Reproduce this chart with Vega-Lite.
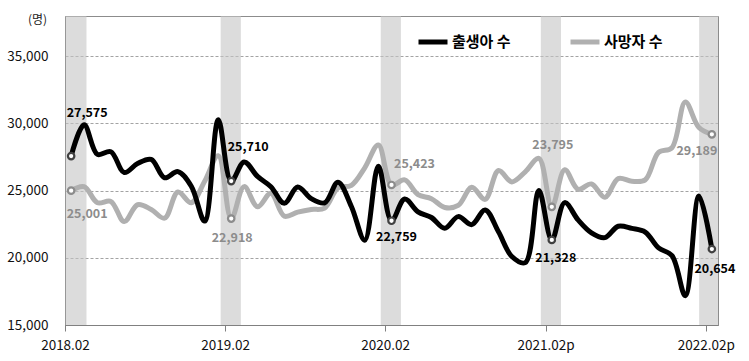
{
  "$schema": "https://vega.github.io/schema/vega-lite/v6.json",
  "width": 653,
  "height": 309,
  "autosize": {"type": "none"},
  "padding": {"left": 65, "top": 16, "right": 31, "bottom": 36},
  "background": "white",
  "config": {
    "font": "Noto Sans CJK KR",
    "view": {"stroke": "#8c8c8c", "strokeWidth": 1}
  },
  "datasets": {
    "bands": [
      {"start": "2018-02-02", "end": "2018-03-22"},
      {"start": "2019-01-22", "end": "2019-03-09"},
      {"start": "2020-01-22", "end": "2020-03-08"},
      {"start": "2021-01-21", "end": "2021-03-08"},
      {"start": "2022-01-17", "end": "2022-03-01"}
    ],
    "monthly": [
      {"month": "2018-02", "series": "사망자 수", "value": 25001},
      {"month": "2018-03", "series": "사망자 수", "value": 25300},
      {"month": "2018-04", "series": "사망자 수", "value": 24100},
      {"month": "2018-05", "series": "사망자 수", "value": 24200},
      {"month": "2018-06", "series": "사망자 수", "value": 22700},
      {"month": "2018-07", "series": "사망자 수", "value": 23950},
      {"month": "2018-08", "series": "사망자 수", "value": 23600},
      {"month": "2018-09", "series": "사망자 수", "value": 22950},
      {"month": "2018-10", "series": "사망자 수", "value": 24900},
      {"month": "2018-11", "series": "사망자 수", "value": 24100},
      {"month": "2018-12", "series": "사망자 수", "value": 25700},
      {"month": "2019-01", "series": "사망자 수", "value": 27600},
      {"month": "2019-02", "series": "사망자 수", "value": 22918},
      {"month": "2019-03", "series": "사망자 수", "value": 25300},
      {"month": "2019-04", "series": "사망자 수", "value": 23800},
      {"month": "2019-05", "series": "사망자 수", "value": 24800},
      {"month": "2019-06", "series": "사망자 수", "value": 23100},
      {"month": "2019-07", "series": "사망자 수", "value": 23400},
      {"month": "2019-08", "series": "사망자 수", "value": 23600},
      {"month": "2019-09", "series": "사망자 수", "value": 23700},
      {"month": "2019-10", "series": "사망자 수", "value": 25200},
      {"month": "2019-11", "series": "사망자 수", "value": 25400},
      {"month": "2019-12", "series": "사망자 수", "value": 26700},
      {"month": "2020-01", "series": "사망자 수", "value": 28400},
      {"month": "2020-02", "series": "사망자 수", "value": 25423},
      {"month": "2020-03", "series": "사망자 수", "value": 25800},
      {"month": "2020-04", "series": "사망자 수", "value": 24700},
      {"month": "2020-05", "series": "사망자 수", "value": 24400},
      {"month": "2020-06", "series": "사망자 수", "value": 23750},
      {"month": "2020-07", "series": "사망자 수", "value": 23900},
      {"month": "2020-08", "series": "사망자 수", "value": 25250},
      {"month": "2020-09", "series": "사망자 수", "value": 24350},
      {"month": "2020-10", "series": "사망자 수", "value": 26500},
      {"month": "2020-11", "series": "사망자 수", "value": 25650},
      {"month": "2020-12", "series": "사망자 수", "value": 26400},
      {"month": "2021-01", "series": "사망자 수", "value": 27400},
      {"month": "2021-02", "series": "사망자 수", "value": 23795},
      {"month": "2021-03", "series": "사망자 수", "value": 26550},
      {"month": "2021-04", "series": "사망자 수", "value": 25100},
      {"month": "2021-05", "series": "사망자 수", "value": 25500},
      {"month": "2021-06", "series": "사망자 수", "value": 24500},
      {"month": "2021-07", "series": "사망자 수", "value": 25900},
      {"month": "2021-08", "series": "사망자 수", "value": 25700},
      {"month": "2021-09", "series": "사망자 수", "value": 25800},
      {"month": "2021-10", "series": "사망자 수", "value": 27850},
      {"month": "2021-11", "series": "사망자 수", "value": 28200},
      {"month": "2021-12", "series": "사망자 수", "value": 31600},
      {"month": "2022-01", "series": "사망자 수", "value": 29700},
      {"month": "2022-02", "series": "사망자 수", "value": 29189},
      {"month": "2018-02", "series": "출생아 수", "value": 27575},
      {"month": "2018-03", "series": "출생아 수", "value": 29900},
      {"month": "2018-04", "series": "출생아 수", "value": 27700},
      {"month": "2018-05", "series": "출생아 수", "value": 27900},
      {"month": "2018-06", "series": "출생아 수", "value": 26350},
      {"month": "2018-07", "series": "출생아 수", "value": 27016},
      {"month": "2018-08", "series": "출생아 수", "value": 27325},
      {"month": "2018-09", "series": "출생아 수", "value": 25961},
      {"month": "2018-10", "series": "출생아 수", "value": 26417},
      {"month": "2018-11", "series": "출생아 수", "value": 25326},
      {"month": "2018-12", "series": "출생아 수", "value": 22733},
      {"month": "2019-01", "series": "출생아 수", "value": 30281},
      {"month": "2019-02", "series": "출생아 수", "value": 25710},
      {"month": "2019-03", "series": "출생아 수", "value": 27139},
      {"month": "2019-04", "series": "출생아 수", "value": 26057},
      {"month": "2019-05", "series": "출생아 수", "value": 25294},
      {"month": "2019-06", "series": "출생아 수", "value": 24054},
      {"month": "2019-07", "series": "출생아 수", "value": 25269},
      {"month": "2019-08", "series": "출생아 수", "value": 24408},
      {"month": "2019-09", "series": "출생아 수", "value": 24091},
      {"month": "2019-10", "series": "출생아 수", "value": 25630},
      {"month": "2019-11", "series": "출생아 수", "value": 23819},
      {"month": "2019-12", "series": "출생아 수", "value": 21311},
      {"month": "2020-01", "series": "출생아 수", "value": 26818},
      {"month": "2020-02", "series": "출생아 수", "value": 22759},
      {"month": "2020-03", "series": "출생아 수", "value": 24378},
      {"month": "2020-04", "series": "출생아 수", "value": 23420},
      {"month": "2020-05", "series": "출생아 수", "value": 23001},
      {"month": "2020-06", "series": "출생아 수", "value": 22193},
      {"month": "2020-07", "series": "출생아 수", "value": 23067},
      {"month": "2020-08", "series": "출생아 수", "value": 22472},
      {"month": "2020-09", "series": "출생아 수", "value": 23566},
      {"month": "2020-10", "series": "출생아 수", "value": 21934},
      {"month": "2020-11", "series": "출생아 수", "value": 20097},
      {"month": "2020-12", "series": "출생아 수", "value": 19641},
      {"month": "2021-01", "series": "출생아 수", "value": 25003},
      {"month": "2021-02", "series": "출생아 수", "value": 21328},
      {"month": "2021-03", "series": "출생아 수", "value": 24109},
      {"month": "2021-04", "series": "출생아 수", "value": 22820},
      {"month": "2021-05", "series": "출생아 수", "value": 21859},
      {"month": "2021-06", "series": "출생아 수", "value": 21504},
      {"month": "2021-07", "series": "출생아 수", "value": 22352},
      {"month": "2021-08", "series": "출생아 수", "value": 22189},
      {"month": "2021-09", "series": "출생아 수", "value": 21920},
      {"month": "2021-10", "series": "출생아 수", "value": 20736},
      {"month": "2021-11", "series": "출생아 수", "value": 20160},
      {"month": "2021-12", "series": "출생아 수", "value": 17179},
      {"month": "2022-01", "series": "출생아 수", "value": 24598},
      {"month": "2022-02", "series": "출생아 수", "value": 20654}
    ]
  },
  "layer": [
    {
      "data": {"name": "bands"},
      "mark": {"type": "rect", "fill": "#c4c4c4", "fillOpacity": 0.6, "stroke": null},
      "encoding": {
        "x": {"field": "start", "type": "temporal", "title": null, "scale": {"type": "utc"}},
        "x2": {"field": "end"}
      }
    },
    {
      "data": {"name": "monthly"},
      "encoding": {
        "x": {
          "field": "month",
          "type": "temporal",
          "timeUnit": "utcyearmonth",
          "bandPosition": 0.5,
          "title": null,
          "scale": {
            "type": "utc",
            "domain": [
              {"year": 2018, "month": 2, "date": 1, "utc": true},
              {"year": 2022, "month": 3, "date": 1, "utc": true}
            ]
          },
          "axis": {
            "values": [
              {"year": 2018, "month": 2, "date": 1, "utc": true},
              {"year": 2019, "month": 2, "date": 1, "utc": true},
              {"year": 2020, "month": 2, "date": 1, "utc": true},
              {"year": 2021, "month": 2, "date": 1, "utc": true},
              {"year": 2022, "month": 2, "date": 1, "utc": true}
            ],
            "labelExpr": "utcFormat(datum.value, '%Y.%m') + (utcyear(datum.value) >= 2021 ? 'p' : '')",
            "labelFont": "Noto Sans CJK KR",
            "labelFontSize": 13.5,
            "labelColor": "#111111",
            "labelPadding": 7,
            "labelFlush": false,
            "labelOverlap": false,
            "tickSize": 6,
            "tickColor": "#808080",
            "domainColor": "#808080",
            "grid": false
          }
        },
        "y": {
          "field": "value",
          "type": "quantitative",
          "title": "(명)",
          "scale": {"domain": [15000, 38000], "nice": false, "zero": false},
          "axis": {
            "values": [15000, 20000, 25000, 30000, 35000],
            "format": ",d",
            "labelFont": "Noto Sans CJK KR",
            "labelFontSize": 13.5,
            "labelColor": "#111111",
            "labelPadding": 17,
            "ticks": false,
            "domainColor": "#808080",
            "grid": true,
            "gridColor": "#8c8c8c",
            "gridDash": [3, 2],
            "gridWidth": 0.8,
            "titleAngle": 0,
            "titleX": -28,
            "titleY": 3,
            "titleAlign": "center",
            "titleBaseline": "middle",
            "titleFont": "Noto Sans CJK KR",
            "titleFontSize": 12,
            "titleFontWeight": "normal",
            "titleColor": "#222222"
          }
        }
      },
      "layer": [
        {
          "transform": [{"filter": "datum.series == '사망자 수'"}],
          "mark": {"type": "line", "strokeWidth": 5, "interpolate": "catmull-rom", "strokeCap": "round", "strokeJoin": "round"},
          "encoding": {
            "color": {"field": "series", "type": "nominal",
              "scale": {"domain": ["출생아 수", "사망자 수"], "range": ["#000000", "#b0b0b0"]}}
          }
        },
        {
          "transform": [{"filter": "datum.series == '출생아 수'"}],
          "mark": {"type": "line", "strokeWidth": 5, "interpolate": "catmull-rom", "strokeCap": "round", "strokeJoin": "round"},
          "encoding": {
            "color": {
              "field": "series", "type": "nominal",
              "scale": {"domain": ["출생아 수", "사망자 수"], "range": ["#000000", "#b0b0b0"]},
              "legend": {
                "orient": "none", "legendX": 351, "legendY": 9, "direction": "horizontal",
                "title": null, "padding": 0,
                "symbolType": "stroke", "symbolStrokeWidth": 5, "symbolSize": 841,
                "labelFont": "Noto Sans CJK KR", "labelFontSize": 15, "labelFontWeight": "bold",
                "labelColor": "#000000", "labelOffset": 2, "columnPadding": 49
              }
            }
          }
        },
        {
          "transform": [{"filter": "indexof([27575, 25710, 22759, 21328, 20654, 25001, 22918, 25423, 23795, 29189], datum.value) >= 0"}],
          "mark": {"type": "point", "shape": "circle", "filled": true, "fill": "white", "strokeWidth": 2.2, "size": 42, "opacity": 1},
          "encoding": {
            "stroke": {"field": "series", "type": "nominal", "legend": null,
              "scale": {"domain": ["출생아 수", "사망자 수"], "range": ["#404040", "#8c8c8c"]}}
          }
        },
        {"transform": [{"filter": "datum.value == 27575"}], "mark": {"type": "text", "fontWeight": "bold", "fontSize": 12.5, "color": "#000000", "dx": 16, "dy": -43},
         "encoding": {"text": {"field": "value", "type": "quantitative", "format": ",d"}}},
        {"transform": [{"filter": "datum.value == 25710"}], "mark": {"type": "text", "fontWeight": "bold", "fontSize": 12.5, "color": "#000000", "dx": 17, "dy": -34},
         "encoding": {"text": {"field": "value", "type": "quantitative", "format": ",d"}}},
        {"transform": [{"filter": "datum.value == 22759"}], "mark": {"type": "text", "fontWeight": "bold", "fontSize": 12.5, "color": "#000000", "dx": 5, "dy": 16},
         "encoding": {"text": {"field": "value", "type": "quantitative", "format": ",d"}}},
        {"transform": [{"filter": "datum.value == 21328"}], "mark": {"type": "text", "fontWeight": "bold", "fontSize": 12.5, "color": "#000000", "dx": 4, "dy": 18},
         "encoding": {"text": {"field": "value", "type": "quantitative", "format": ",d"}}},
        {"transform": [{"filter": "datum.value == 20654"}], "mark": {"type": "text", "fontWeight": "bold", "fontSize": 12.5, "color": "#000000", "dx": 3, "dy": 20},
         "encoding": {"text": {"field": "value", "type": "quantitative", "format": ",d"}}},
        {"transform": [{"filter": "datum.value == 25001"}], "mark": {"type": "text", "fontWeight": "bold", "fontSize": 12.5, "color": "#8c8c8c", "dx": 16, "dy": 23},
         "encoding": {"text": {"field": "value", "type": "quantitative", "format": ",d"}}},
        {"transform": [{"filter": "datum.value == 22918"}], "mark": {"type": "text", "fontWeight": "bold", "fontSize": 12.5, "color": "#8c8c8c", "dx": 1, "dy": 19},
         "encoding": {"text": {"field": "value", "type": "quantitative", "format": ",d"}}},
        {"transform": [{"filter": "datum.value == 25423"}], "mark": {"type": "text", "fontWeight": "bold", "fontSize": 12.5, "color": "#8c8c8c", "dx": 23, "dy": -21},
         "encoding": {"text": {"field": "value", "type": "quantitative", "format": ",d"}}},
        {"transform": [{"filter": "datum.value == 23795"}], "mark": {"type": "text", "fontWeight": "bold", "fontSize": 12.5, "color": "#8c8c8c", "dx": 1, "dy": -62},
         "encoding": {"text": {"field": "value", "type": "quantitative", "format": ",d"}}},
        {"transform": [{"filter": "datum.value == 29189"}], "mark": {"type": "text", "fontWeight": "bold", "fontSize": 12.5, "color": "#8c8c8c", "dx": -15, "dy": 17},
         "encoding": {"text": {"field": "value", "type": "quantitative", "format": ",d"}}}
      ]
    }
  ]
}
